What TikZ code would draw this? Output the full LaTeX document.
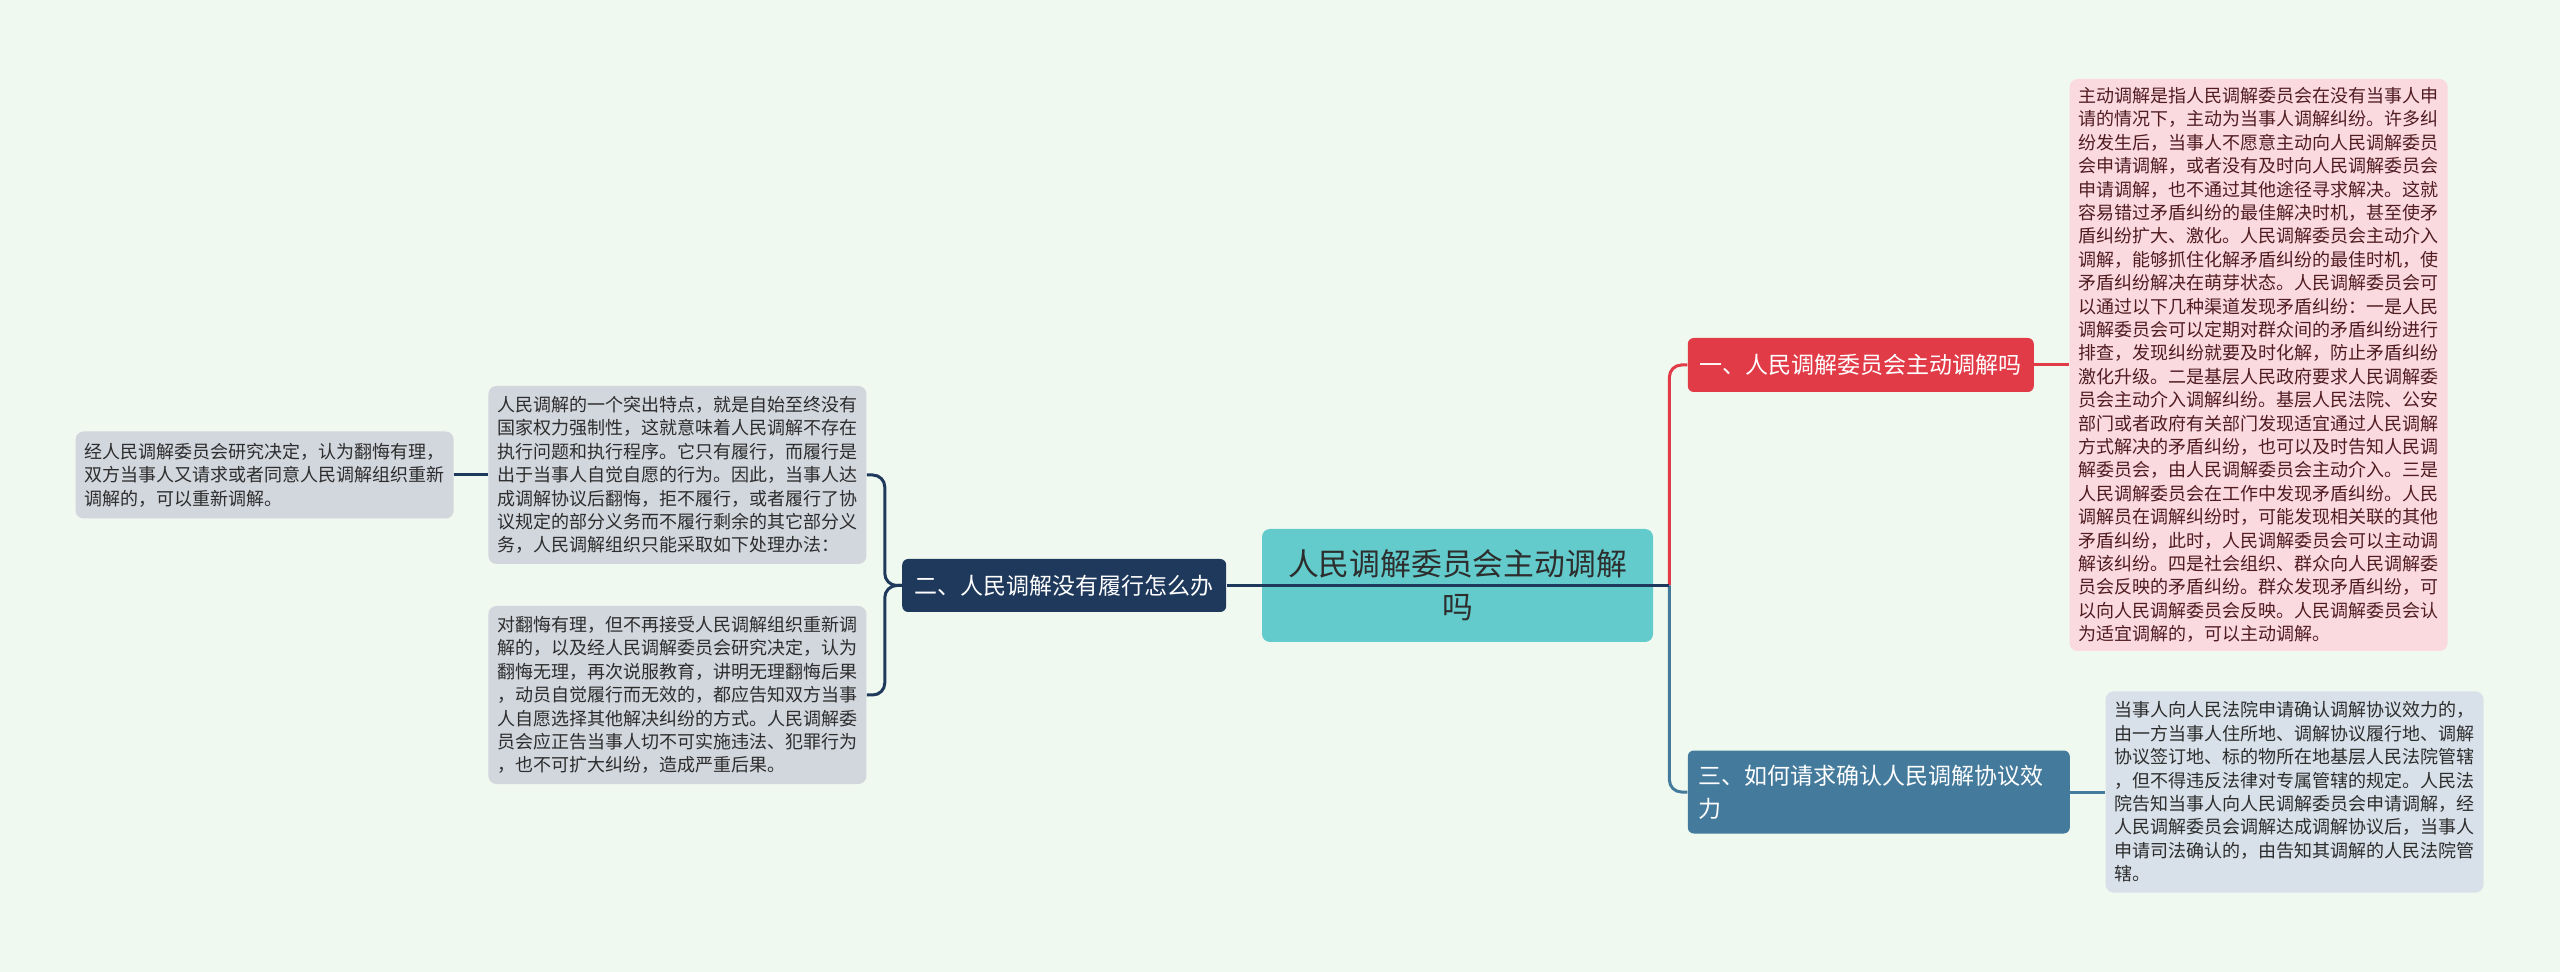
\documentclass[tikz,border=0pt]{standalone}
\usepackage{fontspec}
\setmainfont{Noto Sans CJK SC}
\usetikzlibrary{positioning}
\definecolor{tiaojieMint}{RGB}{240,249,239}
\definecolor{tiaojieTeal}{RGB}{99,203,204}
\definecolor{tiaojieRed}{RGB}{226,59,72}
\definecolor{tiaojieLightRed}{RGB}{250,218,222}
\definecolor{tiaojieNavy}{RGB}{31,57,92}
\definecolor{tiaojieSteel}{RGB}{68,122,156}
\definecolor{tiaojieLightSteel}{RGB}{216,225,233}
\definecolor{tiaojieGrey}{RGB}{210,214,221}
\definecolor{tiaojieInk}{RGB}{45,45,45}
\definecolor{tiaojieMaroon}{RGB}{80,28,34}

\begin{document}
\begin{tikzpicture}[
  x=0.5pt,y=-0.5pt,
  topic/.style={
    fill=tiaojieTeal,
    rounded corners=4pt,
    minimum width=195.5pt,
    minimum height=56.5pt,
    align=center,
    text=tiaojieInk,
    font=\fontsize{15.4pt}{21.5pt}\selectfont
  },
  branch/.style={
    rounded corners=3pt,
    text=white,
    inner sep=0pt,
    align=center,
    font=\fontsize{11.5pt}{16.5pt}\selectfont
  },
  leaf/.style={
    rounded corners=4pt,
    align=left,
    text width=180pt,
    inner xsep=4.5pt,
    inner ysep=2pt,
    text=tiaojieInk,
    font=\fontsize{9pt}{11.7pt}\selectfont
  },
  link/.style={line width=1.5pt,rounded corners=6pt}
]
  \fill[tiaojieMint] (0,0) rectangle (2560,972);
  \node[topic] (root) at (1457.5,585.5) {人民调解委员会主动调解\\吗};
  \node[branch,fill=tiaojieRed,minimum width=173pt,minimum height=27pt,right=17pt of root,yshift=110.25pt] (first) {一、人民调解委员会主动调解吗};
  \node[branch,fill=tiaojieNavy,minimum width=162pt,minimum height=26.5pt,left=17.5pt of root] (second) {二、人民调解没有履行怎么办};
  \node[branch,fill=tiaojieSteel,align=left,text width=180pt,inner xsep=5.5pt,minimum height=41.5pt,right=17pt of root,yshift=-103.25pt] (third) {三、如何请求确认人民调解协议效\\力};
  \node[leaf,fill=tiaojieLightRed,text=tiaojieMaroon,minimum height=286pt,right=17.5pt of first] (activeText) {主动调解是指人民调解委员会在没有当事人申\\请的情况下，主动为当事人调解纠纷。许多纠\\纷发生后，当事人不愿意主动向人民调解委员\\会申请调解，或者没有及时向人民调解委员会\\申请调解，也不通过其他途径寻求解决。这就\\容易错过矛盾纠纷的最佳解决时机，甚至使矛\\盾纠纷扩大、激化。人民调解委员会主动介入\\调解，能够抓住化解矛盾纠纷的最佳时机，使\\矛盾纠纷解决在萌芽状态。人民调解委员会可\\以通过以下几种渠道发现矛盾纠纷：一是人民\\调解委员会可以定期对群众间的矛盾纠纷进行\\排查，发现纠纷就要及时化解，防止矛盾纠纷\\激化升级。二是基层人民政府要求人民调解委\\员会主动介入调解纠纷。基层人民法院、公安\\部门或者政府有关部门发现适宜通过人民调解\\方式解决的矛盾纠纷，也可以及时告知人民调\\解委员会，由人民调解委员会主动介入。三是\\人民调解委员会在工作中发现矛盾纠纷。人民\\调解员在调解纠纷时，可能发现相关联的其他\\矛盾纠纷，此时，人民调解委员会可以主动调\\解该纠纷。四是社会组织、群众向人民调解委\\员会反映的矛盾纠纷。群众发现矛盾纠纷，可\\以向人民调解委员会反映。人民调解委员会认\\为适宜调解的，可以主动调解。};
  \node[leaf,fill=tiaojieLightSteel,minimum height=100.5pt,right=17.5pt of third] (courtText) {当事人向人民法院申请确认调解协议效力的，\\由一方当事人住所地、调解协议履行地、调解\\协议签订地、标的物所在地基层人民法院管辖\\，但不得违反法律对专属管辖的规定。人民法\\院告知当事人向人民调解委员会申请调解，经\\人民调解委员会调解达成调解协议后，当事人\\申请司法确认的，由告知其调解的人民法院管\\辖。};
  \node[leaf,fill=tiaojieGrey,minimum height=89pt,left=17.5pt of second,yshift=55.25pt] (featureText) {人民调解的一个突出特点，就是自始至终没有\\国家权力强制性，这就意味着人民调解不存在\\执行问题和执行程序。它只有履行，而履行是\\出于当事人自觉自愿的行为。因此，当事人达\\成调解协议后翻悔，拒不履行，或者履行了协\\议规定的部分义务而不履行剩余的其它部分义\\务，人民调解组织只能采取如下处理办法：};
  \node[leaf,fill=tiaojieGrey,minimum height=89pt,left=17.5pt of second,yshift=-54.75pt] (refuseText) {对翻悔有理，但不再接受人民调解组织重新调\\解的，以及经人民调解委员会研究决定，认为\\翻悔无理，再次说服教育，讲明无理翻悔后果\\，动员自觉履行而无效的，都应告知双方当事\\人自愿选择其他解决纠纷的方式。人民调解委\\员会应正告当事人切不可实施违法、犯罪行为\\，也不可扩大纠纷，造成严重后果。};
  \node[leaf,fill=tiaojieGrey,minimum height=43.5pt,left=17pt of featureText] (redoText) {经人民调解委员会研究决定，认为翻悔有理，\\双方当事人又请求或者同意人民调解组织重新\\调解的，可以重新调解。};
  \draw[link,tiaojieRed] (root.east) ++(8pt,0) |- (first.west);
  \draw[link,tiaojieSteel] (root.east) ++(8pt,0) |- (third.west);
  \draw[link,tiaojieNavy] (second.east) -- (root.east) -- ++(8pt,0);
  \draw[link,tiaojieNavy] (second.west) -- ++(-8.5pt,0) |- (featureText.east);
  \draw[link,tiaojieNavy] (second.west) -- ++(-8.5pt,0) |- (refuseText.east);
  \draw[link,tiaojieNavy] (featureText.west) -- (redoText.east);
  \draw[link,tiaojieRed] (first.east) -- (activeText.west);
  \draw[link,tiaojieSteel] (third.east) -- (courtText.west);
\end{tikzpicture}
\end{document}
